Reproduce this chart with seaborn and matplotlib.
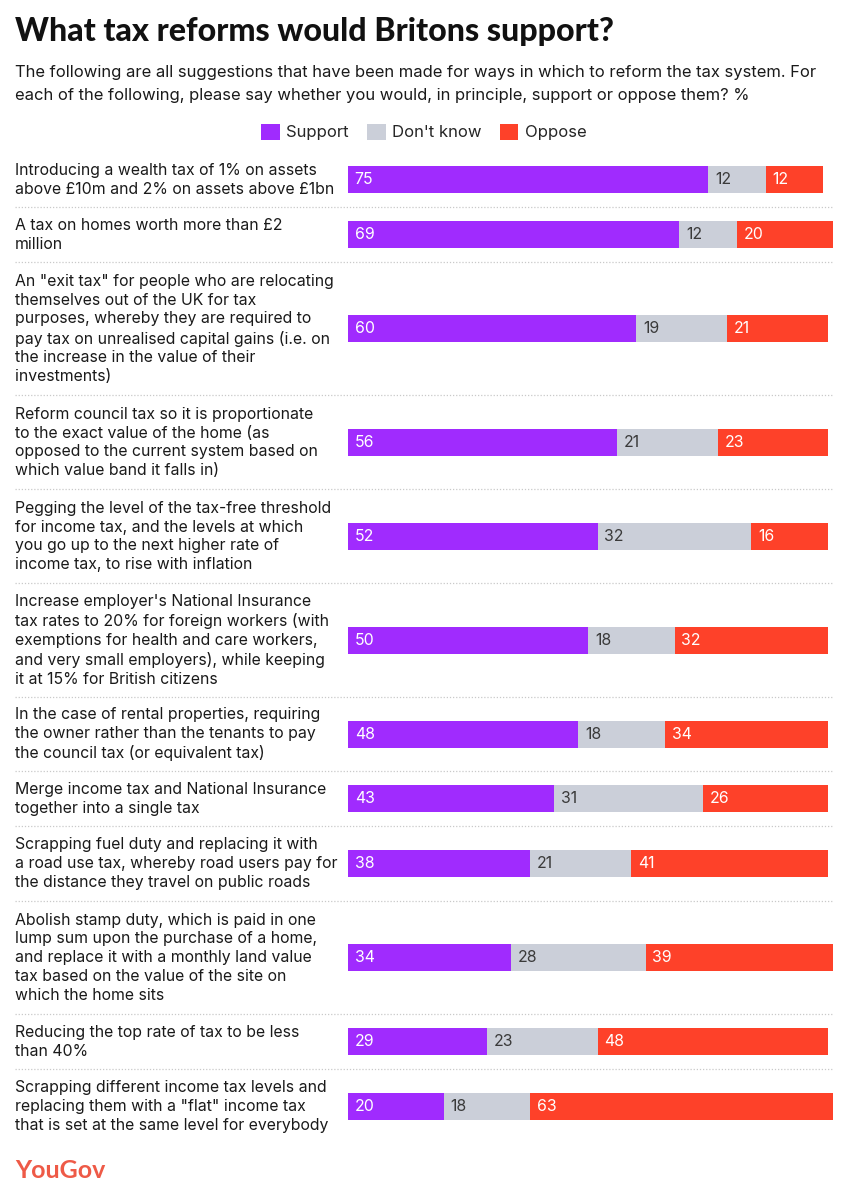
import numpy as np
import pandas as pd
import seaborn as sns
import matplotlib.pyplot as plt
from matplotlib.patches import Patch
from matplotlib.transforms import blended_transform_factory

statements = [
    "Introducing a wealth tax of 1% on assets\nabove £10m and 2% on assets above £1bn",
    "A tax on homes worth more than £2\nmillion",
    "An \"exit tax\" for people who are relocating\nthemselves out of the UK for tax\npurposes, whereby they are required to\npay tax on unrealised capital gains (i.e. on\nthe increase in the value of their\ninvestments)",
    "Reform council tax so it is proportionate\nto the exact value of the home (as\nopposed to the current system based on\nwhich value band it falls in)",
    "Pegging the level of the tax-free threshold\nfor income tax, and the levels at which\nyou go up to the next higher rate of\nincome tax, to rise with inflation",
    "Increase employer's National Insurance\ntax rates to 20% for foreign workers (with\nexemptions for health and care workers,\nand very small employers), while keeping\nit at 15% for British citizens",
    "In the case of rental properties, requiring\nthe owner rather than the tenants to pay\nthe council tax (or equivalent tax)",
    "Merge income tax and National Insurance\ntogether into a single tax",
    "Scrapping fuel duty and replacing it with\na road use tax, whereby road users pay for\nthe distance they travel on public roads",
    "Abolish stamp duty, which is paid in one\nlump sum upon the purchase of a home,\nand replace it with a monthly land value\ntax based on the value of the site on\nwhich the home sits",
    "Reducing the top rate of tax to be less\nthan 40%",
    "Scrapping different income tax levels and\nreplacing them with a \"flat\" income tax\nthat is set at the same level for everybody",
]
support = [75, 69, 60, 56, 52, 50, 48, 43, 38, 34, 29, 20]
dont_know = [12, 12, 19, 21, 32, 18, 18, 31, 21, 28, 23, 18]
oppose = [12, 20, 21, 23, 16, 32, 34, 26, 41, 39, 48, 63]
series = ["Support", "Don't know", "Oppose"]

colors = {"Support": "#a02bfe", "Don't know": "#cbcfd9", "Oppose": "#fe4129"}

W, H = 848, 1200
sns.set_style("white")
plt.rcParams['font.family'] = ['Inter', 'DejaVu Sans']

# row layout in pixel units (top-down), row height follows the number of text lines
line_h, pad = 19.5, 16
n_lines = np.array([s.count("\n") + 1 for s in statements])
heights = n_lines * line_h + pad
top = 152.5
edges = top + np.concatenate([[0], np.cumsum(heights)])
centers = (edges[:-1] + edges[1:]) / 2

df = pd.DataFrame({"pos": centers, "support": support, "dont_know": dont_know, "oppose": oppose})
df["sd"] = df["support"] + df["dont_know"]
df["total"] = df["sd"] + df["oppose"]

fig = plt.figure(figsize=(W / 100, H / 100), dpi=100)
x0, x1 = 348, 833
ax = fig.add_axes([x0 / W, 1 - edges[-1] / H, (x1 - x0) / W, (edges[-1] - edges[0]) / H])

# stacked bars drawn as overlapping cumulative totals
bw = 27 / np.min(np.diff(np.sort(centers)))
for col, name in [("total", "Oppose"), ("sd", "Don't know"), ("support", "Support")]:
    sns.barplot(data=df, x=col, y="pos", orient="y", native_scale=True, color=colors[name],
                width=bw, ax=ax, saturation=1, linewidth=0, errorbar=None)

ax.set_xlim(0, 101)
ax.set_ylim(edges[-1], edges[0])
ax.axis("off")

# value labels
fs = 11.4
for _, r in df.iterrows():
    ax.text(1.4, r["pos"], f"{r['support']:.0f}", color="white", va="center", ha="left", fontsize=fs)
    ax.text(r["support"] + 1.4, r["pos"], f"{r['dont_know']:.0f}", color="#3a3a3a",
            va="center", ha="left", fontsize=fs)
    ax.text(r["sd"] + 1.4, r["pos"], f"{r['oppose']:.0f}", color="white", va="center", ha="left", fontsize=fs)

# statement labels and dotted separators
trans = blended_transform_factory(fig.transFigure, ax.transData)
for c, s in zip(centers, statements):
    ax.text(15 / W, c, s, transform=trans, ha="left", va="center", fontsize=11.4,
            color="#1a1a1a", linespacing=1.32)
for e in edges[1:-1]:
    ax.plot([15 / W, 833 / W], [e, e], transform=trans, color="#c9c9c9", lw=0.9,
            ls=(0, (1, 1.5)), clip_on=False)

# title, subtitle, legend, logo
fig.text(15 / W, 1 - 31 / H, "What tax reforms would Britons support?", fontsize=23.1,
         fontweight="black", family=["Lato", "DejaVu Sans"], va="center", ha="left", color="#111111")
fig.text(15 / W, 1 - 84 / H,
         "The following are all suggestions that have been made for ways in which to reform the tax system. For\n"
         "each of the following, please say whether you would, in principle, support or oppose them? %",
         fontsize=11.95, va="center", ha="left", color="#1a1a1a", linespacing=1.7)
handles = [Patch(facecolor=colors[s], edgecolor="none", label=s) for s in series]
fig.legend(handles=handles, loc="center", bbox_to_anchor=(424 / W, 1 - 132 / H), ncol=3, frameon=False,
           fontsize=12, handlelength=1.1, handleheight=1.1, handletextpad=0.4, columnspacing=1.1)
fig.text(15 / W, 1 - 1171 / H, "YouGov", fontsize=18, fontweight="bold", color="#ee5a47",
         va="center", ha="left", family=["Lato", "DejaVu Sans"])

fig.savefig("out.png", dpi=100)
